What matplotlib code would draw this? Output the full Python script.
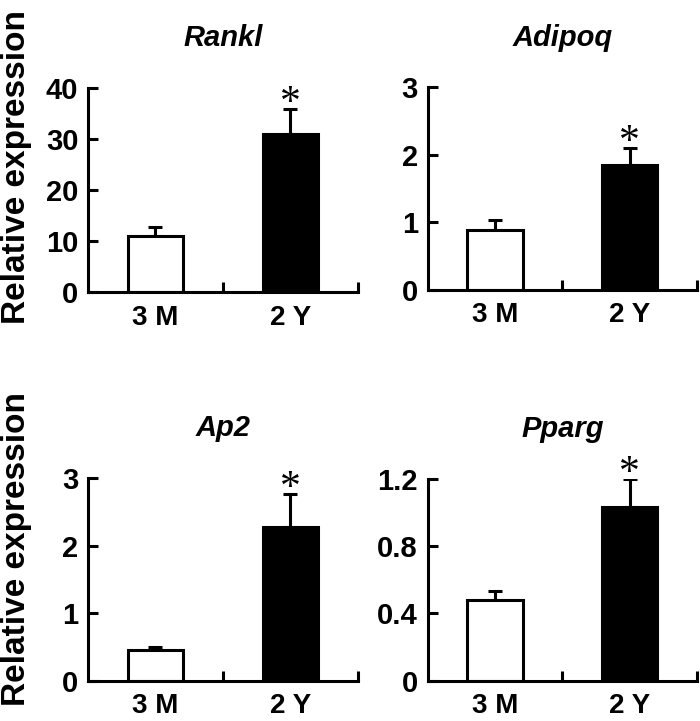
import matplotlib
matplotlib.use("Agg")
import matplotlib.pyplot as plt
from matplotlib.ticker import FixedLocator

plt.rcParams['font.family'] = ['Liberation Sans', 'DejaVu Sans']
plt.rcParams['font.weight'] = 'bold'

groups = ['3 M', '2 Y']
genes = ['Rankl', 'Adipoq', 'Ap2', 'Pparg']
means = {
    'Rankl': [10.9, 31.0],
    'Adipoq': [0.88, 1.85],
    'Ap2': [0.45, 2.27],
    'Pparg': [0.48, 1.03],
}
errs = {
    'Rankl': [1.9, 4.9],
    'Adipoq': [0.15, 0.25],
    'Ap2': [0.05, 0.49],
    'Pparg': [0.05, 0.17],
}
yticks = {
    'Rankl': [0, 10, 20, 30, 40],
    'Adipoq': [0, 1, 2, 3],
    'Ap2': [0, 1, 2, 3],
    'Pparg': [0, 0.4, 0.8, 1.2],
}
yticklabels = {
    'Rankl': ['0', '10', '20', '30', '40'],
    'Adipoq': ['0', '1', '2', '3'],
    'Ap2': ['0', '1', '2', '3'],
    'Pparg': ['0', '0.4', '0.8', '1.2'],
}

fig = plt.figure(figsize=(7, 7.21), dpi=100)
boxes = [
    [0.1257, 0.595, 0.3857, 0.283],
    [0.611, 0.598, 0.385, 0.281],
    [0.1257, 0.056, 0.3857, 0.281],
    [0.611, 0.056, 0.385, 0.280],
]
lw = 2.2

for gene, box in zip(genes, boxes):
    ax = fig.add_axes(box)
    x = [0.5, 1.5]
    ax.bar(x, means[gene], width=0.41, color=['white', 'black'],
           edgecolor='black', linewidth=lw, zorder=2)
    ax.errorbar(x, means[gene], yerr=[[0, 0], errs[gene]], fmt='none',
                ecolor='black', elinewidth=lw, capsize=5, capthick=lw, zorder=1)
    ax.set_xlim(0, 2)
    ax.set_ylim(0, yticks[gene][-1])
    ax.set_yticks(yticks[gene])
    ax.set_yticklabels(yticklabels[gene])
    ax.set_xticks(x)
    ax.set_xticklabels(groups)
    ax.xaxis.set_minor_locator(FixedLocator([1, 2]))
    ax.tick_params(axis='x', which='major', length=0, pad=9, labelsize=20)
    ax.tick_params(axis='x', which='minor', direction='in', length=7, width=lw)
    ax.tick_params(axis='y', direction='in', length=7, width=lw, pad=7, labelsize=21)
    for s in ['top', 'right']:
        ax.spines[s].set_visible(False)
    for s in ['left', 'bottom']:
        ax.spines[s].set_linewidth(lw)
    ax.set_title(gene, fontsize=21, fontweight='bold', style='italic', pad=30)
    top = means[gene][1] + errs[gene][1]
    ax.annotate('*', xy=(1.5, top), xytext=(0, -10), textcoords='offset points',
                ha='center', va='bottom', fontsize=30, fontweight='normal',
                family='Liberation Serif', annotation_clip=False)

fig.text(0.023, 0.768, 'Relative expression', rotation=90, ha='center',
         va='center', fontsize=24, fontweight='bold')
fig.text(0.023, 0.238, 'Relative expression', rotation=90, ha='center',
         va='center', fontsize=24, fontweight='bold')

fig.savefig('out.png', dpi=100)
